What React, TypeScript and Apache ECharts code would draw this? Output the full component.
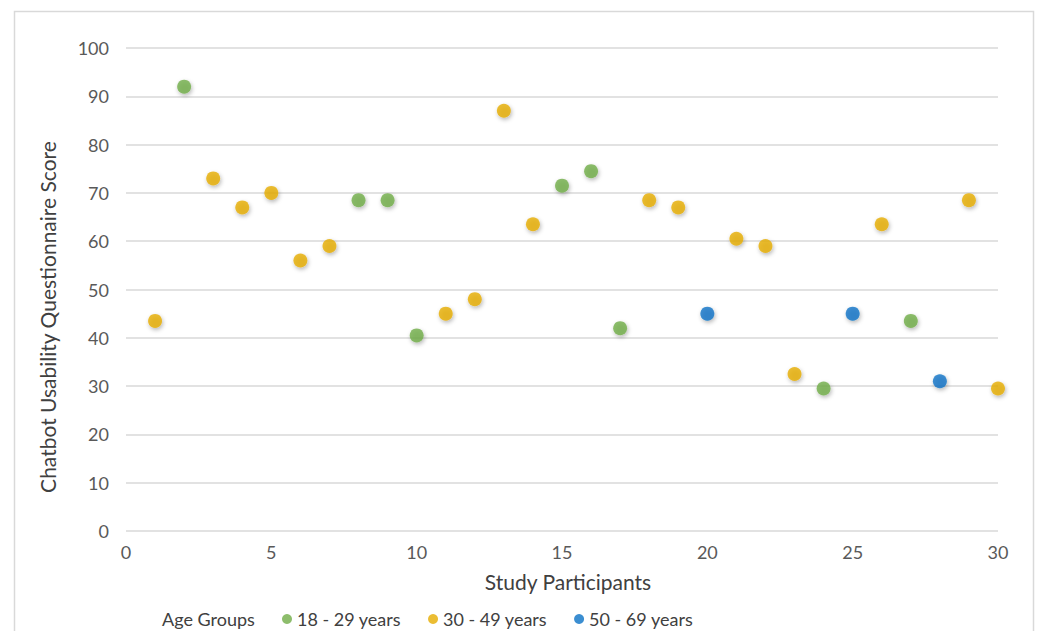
import React, { useEffect, useRef } from "react";
import * as echarts from "echarts";

const groupNames = ["18 - 29 years", "30 - 49 years", "50 - 69 years"];
const groupColors = ["#70ad47", "#e6ac00", "#0a72c6"];

const youngIds = [2, 8, 9, 10, 15, 16, 17, 24, 27];
const youngScores = [92, 68.5, 68.5, 40.5, 71.5, 74.5, 42, 29.5, 43.5];

const middleIds = [1, 3, 4, 5, 6, 7, 11, 12, 13, 14, 18, 19, 21, 22, 23, 26, 29, 30];
const middleScores = [43.5, 73, 67, 70, 56, 59, 45, 48, 87, 63.5, 68.5, 67, 60.5, 59, 32.5, 63.5, 68.5, 29.5];

const olderIds = [20, 25, 28];
const olderScores = [45, 45, 31];

const xTitle = "Study Participants";
const yTitle = "Chatbot Usability Questionnaire Score";
const legendTitle = "Age Groups";

const FONT = "Lato, 'Open Sans', sans-serif";

export default function App() {
  const ref = useRef<HTMLDivElement>(null);
  useEffect(() => {
    if (!ref.current) return;
    const chart = echarts.init(ref.current, null, { renderer: "svg" });
    const groups = [
      [youngIds, youngScores],
      [middleIds, middleScores],
      [olderIds, olderScores],
    ];
    chart.setOption({
      animation: false,
      backgroundColor: "#ffffff",
      grid: { left: 126, right: 39, top: 48, bottom: 100 },
      xAxis: {
        type: "value",
        min: 0,
        max: 30,
        interval: 5,
        axisLine: { show: false },
        axisTick: { show: false },
        splitLine: { show: false },
        axisLabel: { color: "#595959", fontSize: 18, fontFamily: FONT, margin: 12 },
      },
      yAxis: {
        type: "value",
        min: 0,
        max: 100,
        interval: 10,
        axisLine: { show: false },
        axisTick: { show: false },
        splitLine: { show: true, lineStyle: { color: "#d9d9d9", width: 1.5 } },
        axisLabel: { color: "#595959", fontSize: 18, fontFamily: FONT, margin: 17 },
      },
      legend: {
        left: 277,
        top: 605,
        itemWidth: 10,
        itemHeight: 10,
        itemGap: 27,
        icon: "circle",
        textStyle: { color: "#404040", fontSize: 18, fontFamily: FONT, padding: [0, 0, 0, 0] },
        data: groupNames,
      },
      graphic: [
        {
          type: "rect",
          shape: { x: 14.5, y: 11.5, width: 1019, height: 640 },
          style: { fill: "none", stroke: "#d9d9d9", lineWidth: 1.5 },
          silent: true,
        },
        {
          type: "text",
          x: 568,
          y: 581,
          style: {
            text: xTitle,
            fill: "#404040",
            fontSize: 21,
            fontFamily: FONT,
            align: "center",
            verticalAlign: "middle",
          },
        },
        {
          type: "text",
          x: 47,
          y: 317,
          rotation: Math.PI / 2,
          style: {
            text: yTitle,
            fill: "#404040",
            fontSize: 21,
            fontFamily: FONT,
            align: "center",
            verticalAlign: "middle",
          },
        },
        {
          type: "text",
          x: 162,
          y: 619,
          style: {
            text: legendTitle,
            fill: "#404040",
            fontSize: 18,
            fontFamily: FONT,
            align: "left",
            verticalAlign: "middle",
          },
        },
      ],
      series: groups.map(([ids, scores], i) => ({
        name: groupNames[i],
        type: "scatter",
        symbol: "circle",
        symbolSize: 14,
        itemStyle: {
          color: groupColors[i],
          shadowBlur: 4,
          shadowColor: "rgba(0,0,0,0.35)",
          shadowOffsetX: 1,
          shadowOffsetY: 2,
        },
        data: (ids as number[]).map((x, k) => [x, (scores as number[])[k]]),
      })),
    });
    return () => chart.dispose();
  }, []);
  return (
    <div
      ref={ref}
      style={{ position: "fixed", left: 0, top: 0, width: 1037, height: 631 }}
    />
  );
}
